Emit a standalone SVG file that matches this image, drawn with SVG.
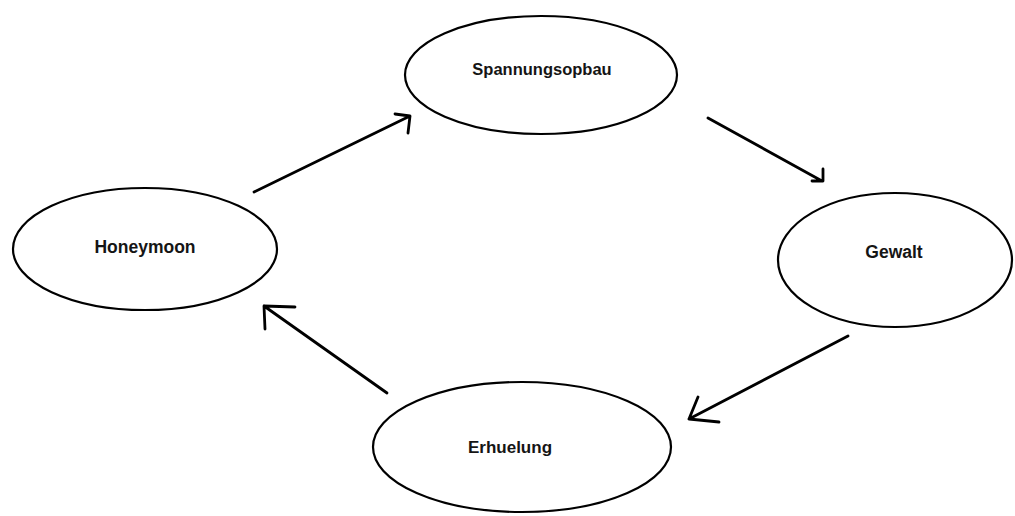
<svg xmlns="http://www.w3.org/2000/svg" width="1015" height="516" viewBox="0 0 1015 516">
<style>
.node ellipse{fill:#fff;stroke:#000;stroke-width:2.2}
.node text{font-family:"Liberation Sans",Arial,sans-serif;font-weight:bold;fill:#151515;text-anchor:middle}
.conn path{fill:none;stroke:#000;stroke-width:2.8;stroke-linecap:round;stroke-linejoin:round}
</style>
<rect width="1015" height="516" fill="#fff"/>
<g id="spannungsopbau" class="node"><ellipse cx="541" cy="75" rx="136" ry="59"/><text x="542" y="75" font-size="16.5">Spannungsopbau</text></g>
<g id="honeymoon" class="node"><ellipse cx="145" cy="249" rx="132" ry="61"/><text x="145" y="253" font-size="17.5">Honeymoon</text></g>
<g id="gewalt" class="node"><ellipse cx="895" cy="260" rx="117" ry="67"/><text x="894" y="258" font-size="17.5">Gewalt</text></g>
<g id="erhuelung" class="node"><ellipse cx="522" cy="447" rx="149" ry="65"/><text x="510" y="453" font-size="17">Erhuelung</text></g>
<g id="connectors" class="conn">
<path d="M254,192 L410,116 M395,114 L410,116 L408,133"/>
<path d="M708,118 L822,181 M823,169 L823,181 L812,181"/>
<path d="M848,336 L689,419 M698,397 L689,419 L719,422"/>
<path d="M387,393 L264,306 M295,307 L264,306 L265,329"/>
</g>
</svg>
